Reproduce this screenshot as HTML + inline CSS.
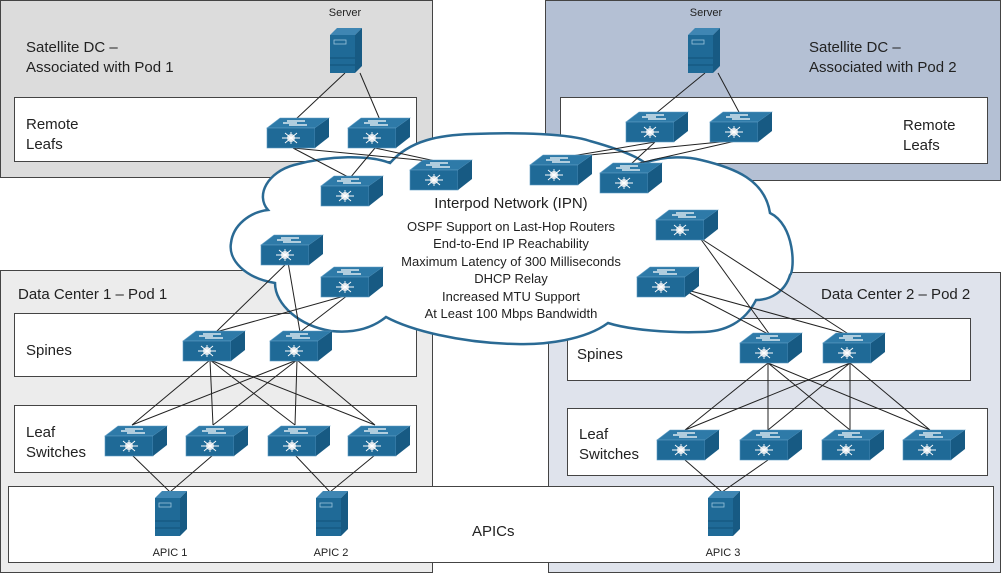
<!DOCTYPE html>
<html><head><meta charset="utf-8"><style>
body{margin:0;width:1001px;height:573px;overflow:hidden;background:#fff;font-family:"Liberation Sans",sans-serif}
svg text{font-family:"Liberation Sans",sans-serif;fill:#222}
</style></head><body>
<svg width="1001" height="573" viewBox="0 0 1001 573" xmlns="http://www.w3.org/2000/svg">
<defs>
<g id="sw">
<polygon points="13,0 62,0 48,10 0,10" fill="#2e7aa8" stroke="#5e9cc4" stroke-width="0.6"/>
<rect x="0" y="10" width="48" height="20" fill="#1f6a97" stroke="#5e9cc4" stroke-width="0.6"/>
<polygon points="48,10 62,0 62,19 48,30" fill="#175a83"/>
<path d="M20,3h18M22,7h18M16,5h14" stroke="#fff" stroke-width="1.2"/>
<circle cx="24" cy="20" r="4" fill="#cfd8e0"/>
<path d="M15,20h18M24,14v12M18,15l12,10M30,15l-12,10" stroke="#fff" stroke-width="0.9"/>
</g>
<g id="sv">
<polygon points="0,7 7,0 32,0 25,7" fill="#3f86b3"/>
<rect x="0" y="7" width="25" height="38" fill="#1f6a97"/>
<polygon points="25,7 32,0 32,38 25,45" fill="#175a83"/>
<rect x="4" y="12" width="12" height="4" fill="none" stroke="#9cc3dc" stroke-width="0.8"/>
<path d="M0,30h25M0,37h25" stroke="#0f4a70" stroke-width="0.8"/>
</g>
</defs>
<rect x="0.5" y="0.5" width="432" height="177" fill="#dcdcdc" stroke="#444"/>
<rect x="14.5" y="97.5" width="402" height="64" fill="#fff" stroke="#444"/>
<rect x="545.5" y="0.5" width="455" height="180" fill="#b4c0d4" stroke="#444"/>
<rect x="560.5" y="97.5" width="427" height="66" fill="#fff" stroke="#444"/>
<rect x="0.5" y="270.5" width="432" height="302" fill="#ececec" stroke="#444"/>
<rect x="14.5" y="313.5" width="402" height="63" fill="#fff" stroke="#444"/>
<rect x="14.5" y="405.5" width="402" height="67" fill="#fff" stroke="#444"/>
<rect x="548.5" y="272.5" width="452" height="300" fill="#dfe3ec" stroke="#444"/>
<rect x="567.5" y="318.5" width="403" height="62" fill="#fff" stroke="#444"/>
<rect x="567.5" y="408.5" width="420" height="67" fill="#fff" stroke="#444"/>
<rect x="8.5" y="486.5" width="985" height="76" fill="#fff" stroke="#444"/>
<path d="M268,210 C255,195 268,172 294,165 C330,155 370,155 390,163 C410,140 440,135 472,134 C520,132 570,134 590,141 C615,148 635,155 645,163 C665,155 690,157 701,160 C735,168 765,180 770,213 C795,225 795,270 790,275 C785,292 770,300 756,300 C745,322 725,332 701,332 C670,333 630,330 608,323 C585,340 545,345 516,344 C460,343 410,330 386,317 C370,330 350,333 331,331 C300,326 275,305 275,283 C245,278 228,260 231,243 C233,225 250,212 268,210 Z" fill="#fff" stroke="#2a6a94" stroke-width="2.5"/>
<g stroke="#222" stroke-width="1" fill="none">
<path d="M345,73L295,120M360,73L380,120"/>
<path d="M705,73L655,114M718,73L740,114"/>
<path d="M293,148L350,178L375,148M293,148L440,162M375,148L440,162"/>
<path d="M655,142L560,158L740,140L630,165L655,142"/>
<path d="M288,262L216,332M288,262L300,332M348,295L216,332M348,295L300,332"/>
<path d="M700,238L770,335M700,238L850,335M680,288L770,335M680,288L850,335"/>
<path d="M210,360L132,425M210,360L213,425M210,360L295,425M210,360L375,425M297,360L132,425M297,360L213,425M297,360L295,425M297,360L375,425"/>
<path d="M768,363L685,430M768,363L768,430M768,363L850,430M768,363L930,430M850,363L685,430M850,363L768,430M850,363L850,430M850,363L930,430"/>
<path d="M132,455L170,492L213,455M295,455L330,492L375,455M685,460L722,492L768,460"/>
</g>
<use href="#sw" x="267" y="118"/><use href="#sw" x="348" y="118"/>
<use href="#sw" x="321" y="176"/><use href="#sw" x="410" y="160"/>
<use href="#sw" x="626" y="112"/><use href="#sw" x="710" y="112"/>
<use href="#sw" x="530" y="155"/><use href="#sw" x="600" y="163"/>
<use href="#sw" x="261" y="235"/><use href="#sw" x="321" y="267"/>
<use href="#sw" x="656" y="210"/><use href="#sw" x="637" y="267"/>
<use href="#sw" x="183" y="331"/><use href="#sw" x="270" y="331"/>
<use href="#sw" x="105" y="426"/><use href="#sw" x="186" y="426"/><use href="#sw" x="268" y="426"/><use href="#sw" x="348" y="426"/>
<use href="#sw" x="740" y="333"/><use href="#sw" x="823" y="333"/>
<use href="#sw" x="657" y="430"/><use href="#sw" x="740" y="430"/><use href="#sw" x="822" y="430"/><use href="#sw" x="903" y="430"/>
<use href="#sv" x="330" y="28"/><use href="#sv" x="688" y="28"/>
<use href="#sv" x="155" y="491"/><use href="#sv" x="316" y="491"/><use href="#sv" x="708" y="491"/>
<g font-size="11" text-anchor="middle">
<text x="345" y="16">Server</text><text x="706" y="16">Server</text>
<text x="170" y="556">APIC 1</text><text x="331" y="556">APIC 2</text><text x="723" y="556">APIC 3</text>
</g>
<g font-size="15">
<text x="26" y="52">Satellite DC –</text><text x="26" y="72">Associated with Pod 1</text>
<text x="809" y="52">Satellite DC –</text><text x="809" y="72">Associated with Pod 2</text>
<text x="26" y="129">Remote</text><text x="26" y="149">Leafs</text>
<text x="903" y="130">Remote</text><text x="903" y="150">Leafs</text>
<text x="18" y="299">Data Center 1 – Pod 1</text>
<text x="821" y="299">Data Center 2 – Pod 2</text>
<text x="26" y="355">Spines</text><text x="577" y="359">Spines</text>
<text x="26" y="437">Leaf</text><text x="26" y="457">Switches</text>
<text x="579" y="439">Leaf</text><text x="579" y="459">Switches</text>
<text x="472" y="536">APICs</text>
</g>
<text x="511" y="208" font-size="15" text-anchor="middle">Interpod  Network (IPN)</text>
<g font-size="13" text-anchor="middle">
<text x="511" y="231">OSPF Support on Last-Hop Routers</text>
<text x="511" y="248">End-to-End IP Reachability</text>
<text x="511" y="266">Maximum Latency of 300 Milliseconds</text>
<text x="511" y="283">DHCP Relay</text>
<text x="511" y="301">Increased MTU Support</text>
<text x="511" y="318">At Least 100 Mbps Bandwidth</text>
</g>
</svg>
</body></html>
